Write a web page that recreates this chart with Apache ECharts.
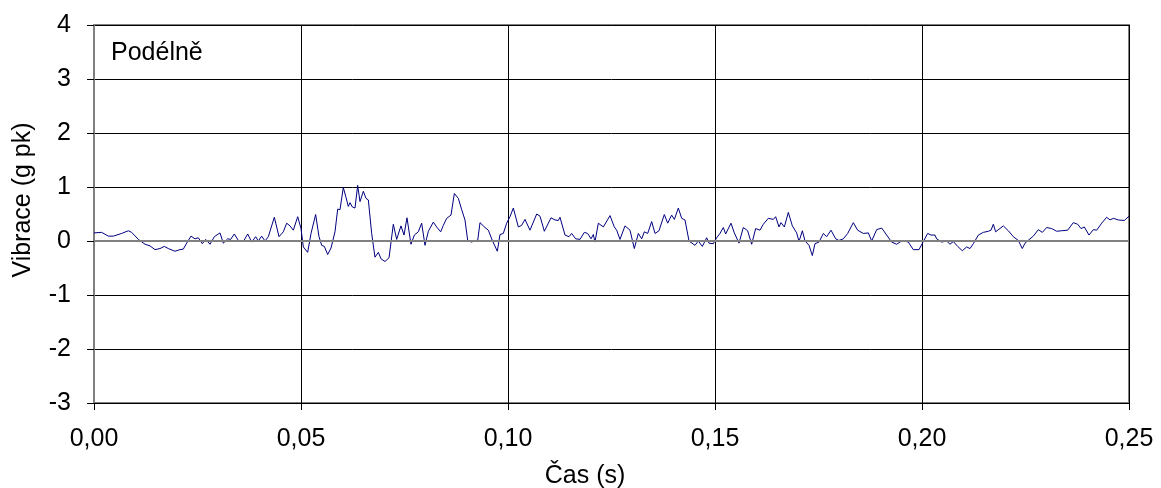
<!DOCTYPE html>
<html>
<head>
<meta charset="utf-8">
<script src="https://cdn.jsdelivr.net/npm/echarts@6/dist/echarts.min.js"></script>
<style>
html,body{margin:0;padding:0;background:#fff;}
#chart{width:1161px;height:488px;}
</style>
</head>
<body>
<div id="chart"></div>
<script>
// Data: [time (s), vibration (g pk)]
const seg1 = [[0.00000,0.15],[0.00185,0.16],[0.00346,0.09],[0.00467,0.09],[0.00668,0.14],[0.00829,0.19],[0.00910,0.16],[0.01071,0.03],[0.01232,-0.06],[0.01353,-0.09],[0.01473,-0.16],[0.01594,-0.14],[0.01699,-0.10],[0.01795,-0.14],[0.01957,-0.19],[0.02077,-0.16],[0.02158,-0.15],[0.02238,-0.04],[0.02343,0.09],[0.02440,0.04],[0.02520,0.06],[0.02617,-0.05],[0.02697,0.03],[0.02802,-0.06],[0.02907,0.08],[0.03043,0.15],[0.03124,-0.04],[0.03229,0.04],[0.03301,0.03],[0.03390,0.13],[0.03486,0.01],[0.03607,-0.01],[0.03712,0.13],[0.03809,-0.02],[0.03905,0.08],[0.03969,0.00],[0.04050,0.09],[0.04131,0.00],[0.04211,0.08],[0.04356,0.44],[0.04469,0.08],[0.04573,0.17],[0.04654,0.33],[0.04734,0.28],[0.04815,0.20],[0.04920,0.45]];
const seg2 = [[0.05000,0.23],[0.05056,-0.11],[0.05161,-0.21],[0.05242,0.14],[0.05354,0.49],[0.05435,0.08],[0.05499,-0.08],[0.05564,-0.10],[0.05644,-0.25],[0.05725,-0.13],[0.05821,0.17],[0.05886,0.59],[0.05942,0.58],[0.06022,0.99],[0.06079,0.83],[0.06143,0.64],[0.06184,0.71],[0.06240,0.63],[0.06304,0.61],[0.06369,1.03],[0.06425,0.73],[0.06506,0.92],[0.06570,0.79],[0.06627,0.76],[0.06707,0.14],[0.06787,-0.30],[0.06868,-0.21],[0.06932,-0.33],[0.07029,-0.38],[0.07126,-0.31],[0.07230,0.31],[0.07311,0.03],[0.07415,0.28],[0.07488,0.11],[0.07560,0.43],[0.07657,-0.06],[0.07738,0.11],[0.07834,0.17],[0.07915,0.33],[0.07995,-0.08],[0.08076,0.18],[0.08196,0.35],[0.08277,0.26],[0.08374,0.17],[0.08438,0.29],[0.08519,0.42],[0.08623,0.48],[0.08704,0.88],[0.08800,0.79],[0.08881,0.58],[0.08961,0.39],[0.09026,0.01],[0.09123,-0.02],[0.09203,0.01],[0.09268,0.01],[0.09324,0.34],[0.09444,0.25],[0.09525,0.20],[0.09622,0.01],[0.09742,-0.19],[0.09807,0.12],[0.09887,0.14],[0.09968,0.33]];
const seg3 = [[0.10048,0.45],[0.10129,0.61],[0.10250,0.26],[0.10330,0.29],[0.10411,0.40],[0.10531,0.20],[0.10693,0.50],[0.10773,0.46],[0.10878,0.18],[0.11039,0.43],[0.11135,0.39],[0.11216,0.38],[0.11256,0.44],[0.11377,0.11],[0.11473,0.08],[0.11538,0.14],[0.11635,0.04],[0.11739,0.03],[0.11844,0.16],[0.11924,0.14],[0.12005,0.04],[0.12061,0.12],[0.12101,-0.02],[0.12182,0.33],[0.12303,0.26],[0.12464,0.47],[0.12568,0.26],[0.12625,0.20],[0.12705,0.03],[0.12826,0.28],[0.12947,0.20],[0.13051,-0.14],[0.13148,0.14],[0.13229,0.04],[0.13293,0.17],[0.13374,0.14],[0.13470,0.36],[0.13551,0.14],[0.13647,0.19],[0.13776,0.49],[0.13857,0.33],[0.13953,0.48],[0.14018,0.40],[0.14114,0.61],[0.14195,0.42],[0.14275,0.39],[0.14372,0.00],[0.14517,-0.08],[0.14597,0.00],[0.14694,-0.10],[0.14799,0.06],[0.14855,-0.04],[0.14960,-0.05]];
const seg4 = [[0.15040,0.06],[0.15121,0.14],[0.15201,0.25],[0.15258,0.13],[0.15386,0.33],[0.15467,0.15],[0.15580,-0.04],[0.15684,0.25],[0.15789,0.19],[0.15886,-0.06],[0.15982,0.23],[0.16087,0.20],[0.16167,0.31],[0.16288,0.42],[0.16409,0.40],[0.16465,0.45],[0.16546,0.26],[0.16594,0.34],[0.16675,0.26],[0.16771,0.53],[0.16868,0.28],[0.16973,0.15],[0.17029,-0.01],[0.17110,0.19],[0.17174,0.00],[0.17271,-0.08],[0.17351,-0.27],[0.17415,-0.05],[0.17512,-0.02],[0.17617,0.14],[0.17697,0.08],[0.17802,0.20],[0.17915,0.04],[0.17995,0.01],[0.18100,0.04],[0.18205,0.14],[0.18341,0.34],[0.18446,0.20],[0.18583,0.14],[0.18704,0.15],[0.18784,0.00],[0.18905,0.21],[0.19026,0.24],[0.19147,0.11],[0.19267,-0.02],[0.19388,-0.06],[0.19525,0.01],[0.19670,-0.02],[0.19790,-0.16],[0.19928,-0.16]];
const seg5 = [[0.20032,-0.01],[0.20137,0.14],[0.20217,0.11],[0.20314,0.11],[0.20354,0.04],[0.20475,-0.02],[0.20596,0.00],[0.20676,-0.06],[0.20757,-0.01],[0.20862,-0.10],[0.20974,-0.18],[0.21079,-0.11],[0.21159,-0.14],[0.21240,-0.05],[0.21361,0.11],[0.21481,0.16],[0.21602,0.18],[0.21667,0.20],[0.21723,0.31],[0.21779,0.17],[0.21964,0.28],[0.22085,0.19],[0.22206,0.08],[0.22327,0.01],[0.22423,-0.14],[0.22488,-0.04],[0.22609,0.04],[0.22689,0.09],[0.22810,0.21],[0.22907,0.16],[0.23011,0.25],[0.23132,0.23],[0.23253,0.18],[0.23374,0.19],[0.23519,0.20],[0.23655,0.34],[0.23760,0.31],[0.23841,0.23],[0.23921,0.26],[0.24034,0.11],[0.24138,0.21],[0.24219,0.20],[0.24340,0.33],[0.24461,0.44],[0.24541,0.39],[0.24622,0.42],[0.24742,0.39],[0.24887,0.38],[0.25000,0.46]];

const seriesName = 'Podélně';
const xTitle = 'Čas (s)';
const yTitle = 'Vibrace (g pk)';
const xMin = 0, xMax = 0.25, xStep = 0.05;
const yMin = -3, yMax = 4, yStep = 1;

const samples = seg1.concat(seg2, seg3, seg4, seg5);
const FONT = "'Liberation Sans', Arial, sans-serif";

const chart = echarts.init(document.getElementById('chart'), null, {renderer: 'canvas'});
chart.setOption({
  animation: false,
  backgroundColor: '#ffffff',
  grid: {left: 94, right: 32, top: 25, bottom: 85, show: true, borderColor: '#808080', borderWidth: 2, backgroundColor: 'transparent'},
  xAxis: {
    type: 'value', min: xMin, max: xMax, interval: xStep,
    axisLine: {show: true, onZero: false, lineStyle: {color: '#000', width: 1}},
    axisTick: {show: true, inside: false, length: 7, lineStyle: {color: '#000'}},
    axisLabel: {fontFamily: FONT, fontSize: 25, color: '#000', margin: 24,
      formatter: v => v.toFixed(2).replace('.', ',')},
    splitLine: {show: true, lineStyle: {color: '#000', width: 1}}
  },
  yAxis: {
    type: 'value', min: yMin, max: yMax, interval: yStep,
    axisLine: {show: true, onZero: false, lineStyle: {color: '#808080', width: 2}},
    axisTick: {show: true, inside: false, length: 7, lineStyle: {color: '#000'}},
    axisLabel: {fontFamily: FONT, fontSize: 25, color: '#000', margin: 23},
    splitLine: {show: true, lineStyle: {color: '#000', width: 1}}
  },
  graphic: [
    {type: 'text', left: 111, top: 41, style: {text: seriesName, font: '25px ' + FONT, fill: '#000'}},
    {type: 'text', x: 585, y: 476, style: {text: xTitle, font: '25px ' + FONT, fill: '#000', align: 'center', verticalAlign: 'middle'}},
    {type: 'text', x: 23, y: 200, rotation: Math.PI / 2, style: {text: yTitle, font: '25px ' + FONT, fill: '#000', align: 'center', verticalAlign: 'middle'}}
  ],
  series: [{
    name: seriesName,
    type: 'line',
    data: samples,
    showSymbol: false,
    symbol: 'none',
    lineStyle: {color: '#000080', width: 1},
    markLine: {
      silent: true, symbol: 'none', label: {show: false},
      lineStyle: {color: '#808080', width: 2, type: 'solid'},
      data: [{yAxis: 0}]
    },
    z: 3
  }]
});
</script>
</body>
</html>
